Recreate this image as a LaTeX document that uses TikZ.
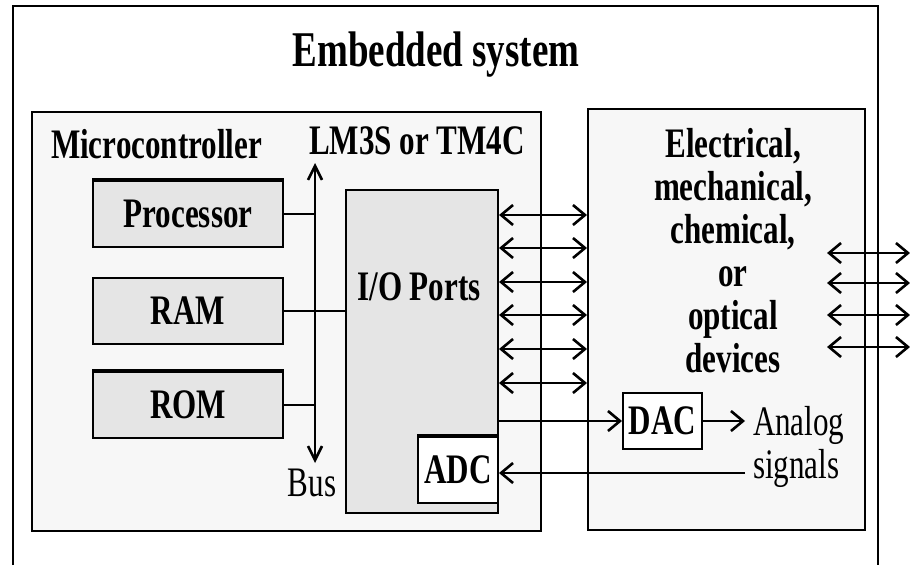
\documentclass[tikz,border=0pt]{standalone}
\usepackage{fontspec}
\setmainfont{Liberation Serif}[FakeStretch=0.74]
\usepackage{xcolor}
\usetikzlibrary{arrows.meta,positioning,calc}
\definecolor{panelgray}{gray}{0.97}
\definecolor{unitgray}{gray}{0.90}
\newcommand{\lblfont}{\fontsize{42}{43}\selectfont}

\begin{document}
\begin{tikzpicture}[
  x=1pt,y=-1pt,
  line width=2pt,
  >={Straight Barb[length=12pt,width=20pt,line width=2.6pt]},
  panel/.style={draw,fill=panelgray,inner sep=0pt},
  unit/.style={draw,fill=unitgray,inner sep=0pt,minimum width=190pt,minimum height=66pt,font=\lblfont\bfseries},
  conv/.style={draw,fill=white,inner sep=0pt,font=\lblfont\bfseries},
  tag/.style={inner sep=0pt,font=\lblfont\bfseries},
  thin tag/.style={inner sep=0pt,font=\lblfont},
  heavy/.style={line width=3.6pt},
]
\useasboundingbox (0,0) rectangle (910,565);
% outer frame, open at the bottom
\draw (13,565) |- (878,6) -- (878,565);
\node[inner sep=0pt,font=\fontsize{50}{52}\selectfont\bfseries] (title) at (436,55) {Embedded system};
% the two panels
\node[panel,minimum width=509pt,minimum height=419pt] (mcu) at (286.5,321.5) {};
\node[panel,minimum width=277pt,minimum height=421pt] (dev) at (726.5,319.5) {};
\node[tag,anchor=base west] (mcutxt) at (50,158) {Microcontroller};
\node[tag,anchor=base] (part) at (417,154) {LM3S or TM4C};
% memory and processor
\node[unit] (proc) at (188,214) {Processor};
\node[unit] (ram) at (188,311) {RAM};
\node[unit] (rom) at (188,404.5) {ROM};
\draw[heavy] (proc.north west) -- (proc.north east);
\draw[heavy] (rom.north west) -- (rom.north east);
% bus
\coordinate (busT) at (315,163);
\coordinate (busB) at (315,463);
\draw[<->,>={Straight Barb[length=14pt,width=14pt,line width=2.6pt]}] (busT) -- (busB);
\node[thin tag,anchor=base] (bus) at (312,496) {Bus};
\draw (proc.east) -- (proc.east -| busT);
\draw (rom.east) -- (rom.east -| busT);
% I/O ports
\node[draw,fill=unitgray,inner sep=0pt,minimum width=152pt,minimum height=323pt] (io) at (422,351.5) {};
\node[tag] (iotxt) at (419,287) {I/O Ports};
\draw (ram.east) -- (ram.east -| io.west);
\node[conv,minimum width=80pt,minimum height=66pt] (adc) at (458,470) {ADC};
\draw[heavy] (adc.north west) -- (adc.north east);
% port lines
\foreach \y in {215,248,282,315,349,383}
  \draw[<->] (io.east |- 0,\y) -- (dev.west |- 0,\y);
% devices
\node[tag,align=center,anchor=north] (devtxt) at (733,127)
  {Electrical,\\mechanical,\\chemical,\\or\\optical\\devices};
\foreach \y in {253,283,315,347}
  \draw[<->] (827,\y) -- (910,\y);
% converters
\node[conv,minimum width=79pt,minimum height=56pt] (dac) at (662.5,421) {DAC};
\draw[->] (io.east |- dac.west) -- (dac.west);
\coordinate (aout) at (745,421);
\draw[->] (dac.east) -- (aout);
\node[thin tag,anchor=base west] (analog) at (752,435) {Analog};
\node[thin tag,anchor=base west] (signals) at (752,478) {signals};
\coordinate (ain) at (745,473);
\draw[->] (ain) -- (ain -| adc.east);
\end{tikzpicture}
\end{document}
